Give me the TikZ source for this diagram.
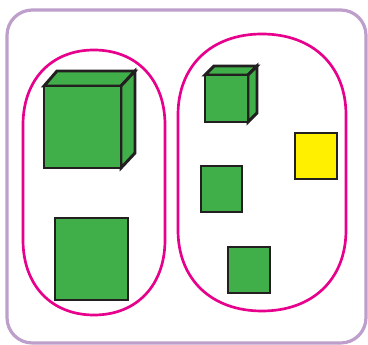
\documentclass[tikz,border=0pt]{standalone}
\usepackage{tikz}
\usepackage{xcolor}
\definecolor{boxpurple}{RGB}{190,158,202}
\definecolor{setpink}{RGB}{230,0,140}
\definecolor{cubegreen}{RGB}{64,174,73}
\definecolor{cubeyellow}{RGB}{255,240,0}
\definecolor{edgegray}{RGB}{35,31,32}

\tikzset{
    face/.style={fill=cubegreen, draw=edgegray, line width=2.2pt},
    setline/.style={draw=setpink, line width=2pt}
}

\begin{document}
\begin{tikzpicture}[x=0.75pt, y=-0.75pt]
            \useasboundingbox (0,0) rectangle (368,345);

            % Frame
            \draw[boxpurple, line width=2.4pt, rounded corners=19pt] (7,10) rectangle (366,343);

            % Sets
            \draw[setline] (23,125) .. controls (23,80) and (51,50) .. (94,50)
                .. controls (137,50) and (165,80) .. (165,125) -- (165,240)
                .. controls (165,285) and (137,315) .. (94,315)
                .. controls (51,315) and (23,285) .. (23,240) -- cycle;
            \draw[setline] (178,115) .. controls (178,66) and (211,34) .. (262,34)
                .. controls (313,34) and (346,66) .. (346,115) -- (346,230)
                .. controls (346,279) and (313,311) .. (262,311)
                .. controls (211,311) and (178,279) .. (178,230) -- cycle;

            % Big cube
            \draw[face] (44,86) -- (57,71) -- (135,71) -- (121,86) -- cycle;
            \draw[face] (121,86) -- (135,71) -- (135,153) -- (121,168) -- cycle;
            \draw[face] (44,86) rectangle (121,168);

            % Big square
            \draw[face] (55,218) rectangle (128,300);

            % Small cube
            \draw[face] (205,75) -- (214,66) -- (257,66) -- (248,75) -- cycle;
            \draw[face] (248,75) -- (257,66) -- (257,113) -- (248,122) -- cycle;
            \draw[face] (205,75) rectangle (248,122);

            % Small squares
            \draw[face, fill=cubeyellow] (295,133) rectangle (337,179);
            \draw[face] (201,166) rectangle (242,212);
            \draw[face] (228,247) rectangle (270,293);
        \end{tikzpicture}
\end{document}
